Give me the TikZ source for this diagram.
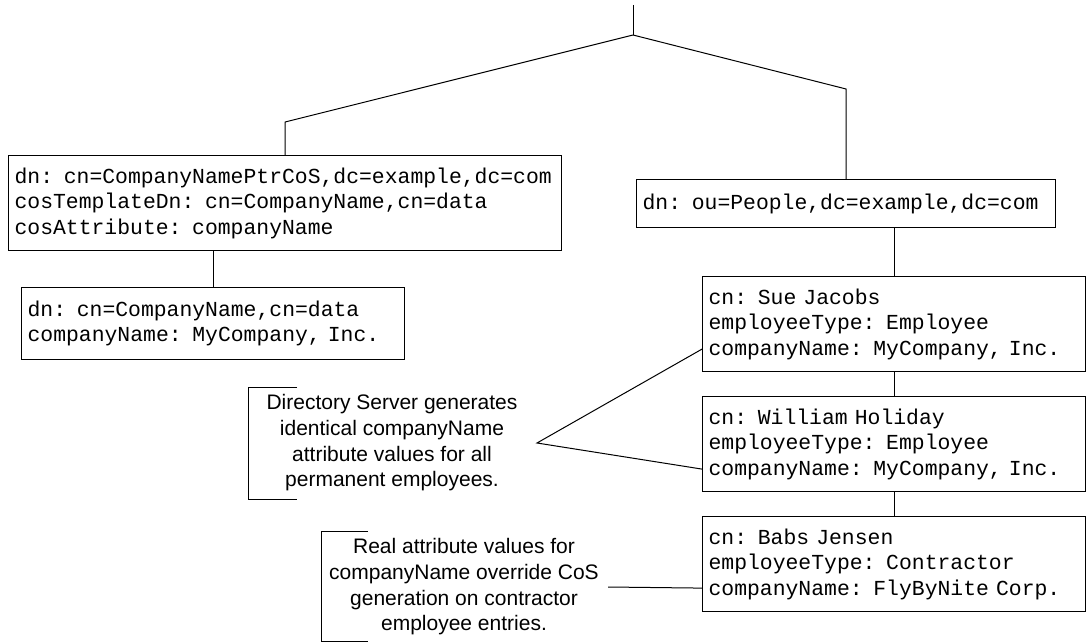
\documentclass[tikz,border=0pt]{standalone}
\usepackage{fontspec}
\setmainfont{Liberation Sans}
\setmonofont{Liberation Mono}
\begin{document}
\begin{tikzpicture}[x=1pt, y=-1pt, line width=1pt]
	\tikzstyle{entry} = [draw=black, line width=1.2pt, anchor=north west, inner xsep=6pt, inner ysep=0pt, align=left, font=\ttfamily\fontsize{21.4}{25.5}\selectfont]
	\tikzstyle{note}  = [align=center, inner sep=0pt, font=\fontsize{21}{25.7}\selectfont]

	\useasboundingbox (0,0) rectangle (1086,644);

	% directory entries
	\node[entry, text width=541pt, minimum height=95pt] (ptr) at (8,155) {dn: cn=CompanyNamePtrCoS,dc=example,dc=com\\cosTemplateDn: cn=CompanyName,cn=data\\cosAttribute: companyName};
	\node[entry, text width=371pt, minimum height=72pt] (data) at (21,287) {dn: cn=CompanyName,cn=data\\companyName: MyCompany, Inc.};
	\node[entry, text width=407pt, minimum height=48pt] (people) at (636,179) {dn: ou=People,dc=example,dc=com};

	\foreach \name/\y/\cn/\type/\company in {sue/276/Sue Jacobs/Employee/{MyCompany, Inc.}, william/396/William Holiday/Employee/{MyCompany, Inc.}, babs/516/Babs Jensen/Contractor/{FlyByNite Corp.}}
		\node[entry, text width=371pt, minimum height=95pt] (\name) at (702,\y) {cn: \cn\\employeeType: \type\\companyName: \company};

	% tree
	\coordinate (top) at (633,5);
	\coordinate (fork) at (633,35);
	\draw (top) -- (fork);
	\draw (fork) -- (ptr.north |- 0,122) -- (ptr.north);
	\draw (fork) -- (people.north |- 0,89) -- (people.north);
	\draw (data.north |- ptr.south) -- (data.north);
	\draw (sue.north |- people.south) -- (sue.north);

	\foreach \from/\to in {sue/william, william/babs}
		\draw (\from.south) -- (\to.north);

	% notes
	\node[note] (note1) at (392,443) {Directory Server generates\\identical companyName\\attribute values for all\\permanent employees.};
	\node[note] (note2) at (464,587) {Real attribute values for\\companyName override CoS\\generation on contractor\\employee entries.};

	\draw (297,387) -- (248,387) -- (248,499) -- (297,499);
	\draw (368,531) -- (321,531) -- (321,641) -- (368,641);

	\coordinate (tip) at (537,443);
	\coordinate (tail) at (608,587);
	\draw ([yshift=-25pt]sue.west) -- (tip) -- ([yshift=-25pt]william.west);
	\draw (tail) -- ([yshift=-24pt]babs.west);
\end{tikzpicture}
\end{document}
